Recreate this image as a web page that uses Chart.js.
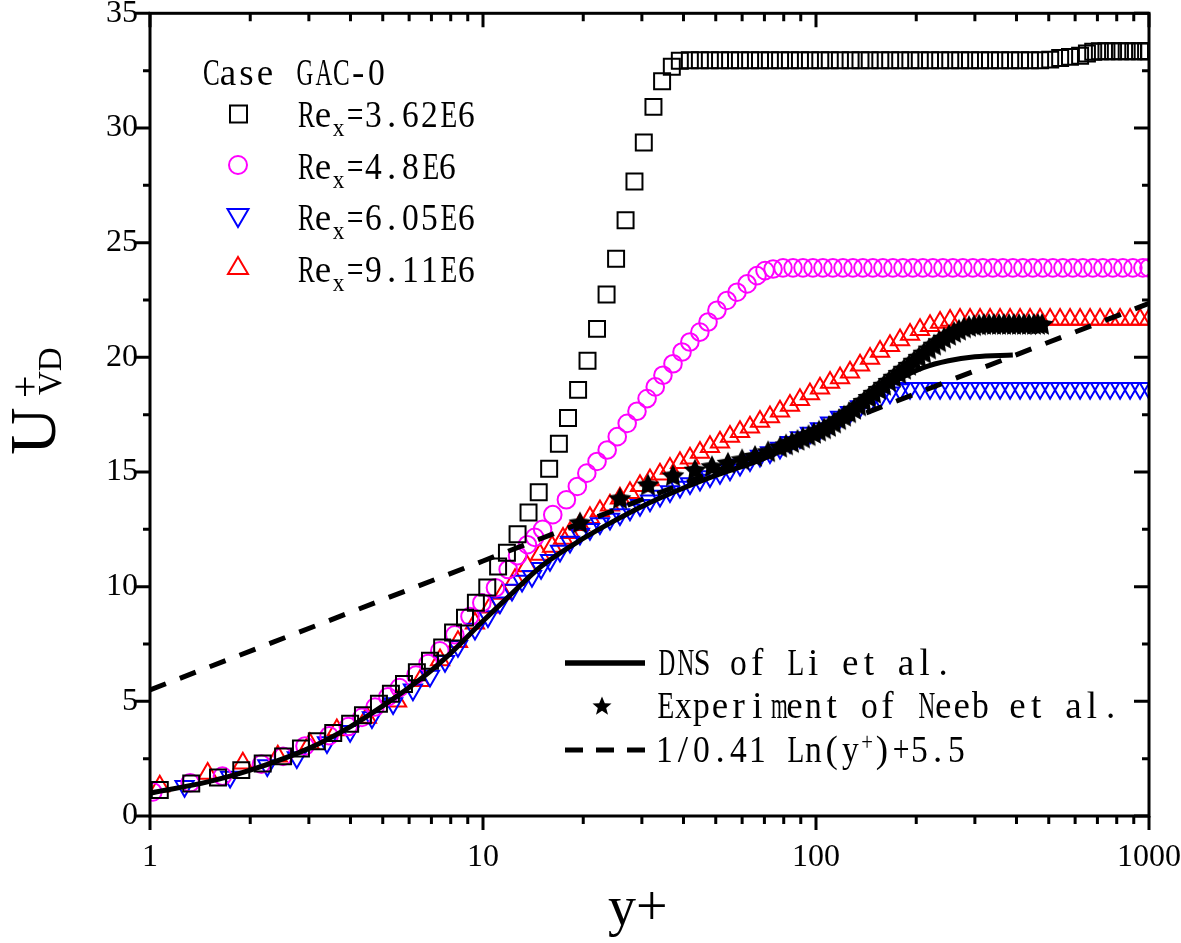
<!DOCTYPE html>
<html>
<head>
<meta charset="utf-8">
<title>U+VD vs y+ (Case GAC-0)</title>
<script src="https://cdn.jsdelivr.net/npm/chart.js@4.4.1/dist/chart.umd.min.js"></script>
<style>
  html, body { margin: 0; padding: 0; background: #ffffff; }
  #wrap { position: relative; width: 1181px; height: 943px; overflow: hidden; }
  #plot { position: absolute; left: 0; top: 0; }
  #marks { position: absolute; left: 0; top: 0; }
  .txt { position: absolute; white-space: nowrap; line-height: 1; color: #000; }
  .mono { font-family: 'Liberation Serif', 'DejaVu Serif', serif; font-size: 37px; }
  .mono sub { font-size: 0.7em; vertical-align: -9px; line-height: 0; }
  .mono sup { font-size: 0.7em; vertical-align: 12px; line-height: 0; }
  .ch { display: inline-block; text-align: center; white-space: pre; }
  .serif { font-family: 'Liberation Serif', 'DejaVu Serif', serif; }
  #ytitle { position: absolute; left: 55px; top: 455px; transform: rotate(-90deg); transform-origin: 0 0; }
</style>
</head>
<body>
<div id="wrap">
  <canvas id="plot" width="1181" height="943"></canvas>

  <!-- legend symbols -->
  <svg id="marks" width="1181" height="943">
    <rect x="230" y="105.5" width="17" height="17" fill="none" stroke="#000" stroke-width="2"/>
    <circle cx="238" cy="165" r="9" fill="none" stroke="#ff00ff" stroke-width="2"/>
    <polygon points="227.5,209 248.5,209 238,227" fill="none" stroke="#0000ff" stroke-width="2"/>
    <polygon points="238,257 248,274 228,274" fill="none" stroke="#ff0000" stroke-width="2"/>
    <line x1="565" y1="663" x2="645" y2="663" stroke="#000" stroke-width="5.5"/>
    <polygon points="602,696.5 604.8,703.2 611.5,703.4 606.2,707.9 608,714.8 602,710.8 596,714.8 597.8,707.9 592.5,703.4 599.2,703.2" fill="#000"/>
    <line x1="565" y1="750" x2="583" y2="750" stroke="#000" stroke-width="5"/>
    <line x1="596" y1="750" x2="614" y2="750" stroke="#000" stroke-width="5"/>
    <line x1="627" y1="750" x2="645" y2="750" stroke="#000" stroke-width="5"/>
  </svg>

  <!-- legend text -->
  <div class="txt mono" style="left:200px; top:54px">Case GAC-0</div>
  <div class="txt mono" style="left:295px; top:96px">Re<sub>x</sub>=3.62E6</div>
  <div class="txt mono" style="left:295px; top:147.7px">Re<sub>x</sub>=4.8E6</div>
  <div class="txt mono" style="left:295px; top:199.3px">Re<sub>x</sub>=6.05E6</div>
  <div class="txt mono" style="left:295px; top:251px">Re<sub>x</sub>=9.11E6</div>
  <div class="txt mono" style="left:655px; top:644px">DNS of Li et al.</div>
  <div class="txt mono" style="left:655px; top:687px">Experiment of Neeb et al.</div>
  <div class="txt mono" style="left:655px; top:731px">1/0.41 Ln(y<sup>+</sup>)+5.5</div>

  <!-- axis titles -->
  <div id="ytitle">
    <div class="txt serif" style="left:0; top:-55.3px; font-size:66px">U</div>
    <div class="txt serif" style="left:57px; top:-50.5px; font-size:40px">+</div>
    <div class="txt serif" style="left:60px; top:-20.6px; font-size:33px">VD</div>
  </div>
  <div class="txt serif" style="left:608px; top:878px; font-size:56px">y+</div>
</div>

<script>
// ---- data: [y+, U+VD] ----
const re362 = [
  [1.07,1.13],[1.33,1.42],[1.60,1.68],[1.88,2.0],[2.18,2.29],[2.51,2.6],[2.84,2.94],[3.17,3.26],[3.55,3.62],[3.99,4.02],
  [4.36,4.39],[4.87,4.89],[5.29,5.33],[5.79,5.76],[6.33,6.27],[6.93,6.77],[7.54,7.35],[8.13,8.0],[8.83,8.65],[9.52,9.3],
  [10.3,9.96],[11.1,10.88],[11.8,11.48],[12.7,12.29],[13.7,13.23],[14.7,14.12],[15.8,15.14],[16.9,16.23],[18.0,17.35],[19.3,18.58],
  [20.6,19.85],[22.0,21.24],[23.5,22.74],[25.1,24.3],[26.8,25.98],[28.5,27.67],[30.4,29.37],[32.5,30.92],[34.5,32.04],[36.9,32.67],
  [39.0,32.93],[41.8,32.95],[44.8,32.95],[48.0,32.95],[51.5,32.95],[55.2,32.95],[59.1,32.95],[63.4,32.95],[67.9,32.95],[72.7,32.95],
  [78.0,32.95],[83.5,32.95],[89.5,32.95],[95.9,32.95],[103,32.95],[110,32.95],[118,32.95],[127,32.95],[136,32.95],[145,32.95],
  [156,32.95],[167,32.95],[179,32.95],[192,32.95],[205,32.95],[220,32.95],[236,32.95],[253,32.95],[271,32.95],[290,32.95],
  [311,32.95],[333,32.95],[357,32.95],[383,32.95],[410,32.95],[439,32.95],[471,32.95],[505,32.98],[541,33.05],[579,33.1],
  [621,33.15],[651,33.25],[680,33.32],[712,33.35],[745,33.35],[780,33.35],[818,33.35],[857,33.35],[897,33.35],[940,33.35],
  [980,33.35],[1000,33.35]
];

const re48 = [
  [1.02,1.05],[1.32,1.45],[1.65,1.74],[2.16,2.26],[2.51,2.6],[2.92,3.05],[3.45,3.5],[3.94,3.9],[4.33,4.3],[4.74,4.75],
  [5.18,5.2],[5.61,5.6],[6.29,6.15],[6.84,6.65],[7.42,7.2],[8.23,7.9],[9.14,8.7],[9.92,9.3],[10.9,9.95],[11.9,10.75],
  [12.7,11.35],[13.6,11.83],[14.3,12.15],[15.1,12.5],[16.2,13.14],[17.8,13.79],[19.2,14.37],[20.5,14.95],[22.0,15.46],[23.6,15.96],
  [25.3,16.54],[27.1,17.12],[29.0,17.65],[31.1,18.2],[32.9,18.71],[34.7,19.22],[37.2,19.72],[39.6,20.23],[41.8,20.67],[44.8,21.1],
  [47.4,21.54],[50.4,22.05],[54.0,22.48],[57.9,22.84],[62.1,23.2],[66.5,23.56],[70.3,23.78],[74.3,23.85],
  [79.6,23.9],[85.3,23.9],[91.4,23.9],[97.9,23.9],[104.9,23.9],[112.4,23.9],[120.5,23.9],[129.1,23.9],[138.3,23.9],[148.2,23.9],
  [158.8,23.9],[170.2,23.9],[182.4,23.9],[195.4,23.9],[209.4,23.9],[224.4,23.9],[240.5,23.9],[257.7,23.9],[276.1,23.9],[295.9,23.9],
  [317.1,23.9],[339.8,23.9],[364.1,23.9],[390.2,23.9],[418.1,23.9],[448.0,23.9],[480.1,23.9],[514.5,23.9],[551.3,23.9],[590.8,23.9],
  [633.1,23.9],[678.4,23.9],[726.9,23.9],[779.0,23.9],[834.7,23.9],[894.5,23.9],[958.5,23.9],[1000,23.9]
];

const re605 = [
  [1.27,1.3],[1.74,1.7],[2.25,2.2],[2.76,2.55],[3.40,3.2],[3.99,3.7],[4.64,4.3],[5.37,4.9],[6.16,5.5],[6.93,6.1],
  [7.69,6.75],[8.41,7.4],[9.46,8.15],[10.35,8.7],[11.24,9.3],[12.22,9.85],[13.1,10.25],[14.03,10.45],[14.94,10.8],[15.89,11.15],
  [17.03,11.55],[18.25,11.95],[19.55,12.3],[20.95,12.5],[22.45,12.75],[24.06,12.95],[25.78,13.15],[27.63,13.35],[29.61,13.55],[31.73,13.75],
  [34.0,13.95],[36.43,14.15],[39.04,14.35],[41.84,14.5],[44.83,14.65],[48.04,14.8],[51.48,14.95],[55.17,15.1],[59.12,15.3],[63.35,15.5],
  [67.88,15.7],[72.74,15.85],[77.95,16.05],[83.53,16.3],[89.5,16.5],[95.9,16.7],[102.8,16.9],[110.2,17.15],[118.1,17.4],[126.5,17.6],
  [135.6,17.85],[145.3,18.05],[155.7,18.25],[166.8,18.45],[178.8,18.6],[191.6,18.65],[205.3,18.65],[220.0,18.65],[235.8,18.65],[252.7,18.65],
  [270.7,18.65],[290.1,18.65],[310.9,18.65],[333.2,18.65],[357.0,18.65],[382.6,18.65],[410.0,18.65],[439.3,18.65],[470.8,18.65],[504.5,18.65],
  [540.6,18.65],[579.3,18.65],[620.8,18.65],[665.3,18.65],[712.9,18.65],[763.9,18.65],[818.6,18.65],[877.2,18.65],[940.0,18.65],[1000,18.65]
];

const re911 = [
  [1.07,1.3],[1.49,1.85],[1.90,2.3],[2.42,2.6],[3.02,3.15],[3.64,3.75],[4.48,4.3],[5.52,5.0],[6.47,5.9],[7.43,6.8],
  [8.41,7.6],[9.46,8.4],[10.5,9.1],[11.48,9.7],[12.48,10.3],[13.56,10.9],[14.83,11.4],[16.12,11.75],[17.39,12.1],[18.25,12.35],
  [19.55,12.7],[20.95,13.0],[22.45,13.3],[24.06,13.55],[25.78,13.85],[27.63,14.1],[29.61,14.4],[31.73,14.65],[34.0,14.9],[36.43,15.15],
  [39.04,15.4],[41.84,15.6],[44.83,15.85],[48.04,16.1],[51.48,16.3],[55.17,16.55],[59.12,16.75],[63.35,16.95],[67.88,17.2],[72.74,17.4],
  [77.95,17.65],[83.53,17.9],[89.5,18.15],[95.9,18.4],[102.8,18.65],[110.2,18.9],[118.1,19.1],[126.5,19.35],[135.6,19.65],[145.3,19.95],
  [155.7,20.25],[166.8,20.5],[178.8,20.75],[191.6,21.0],[205.3,21.2],[220.0,21.38],[235.8,21.52],[252.7,21.6],[270.7,21.65],[290.1,21.65],
  [310.9,21.65],[333.2,21.65],[357.0,21.65],[382.6,21.65],[410.0,21.65],[439.3,21.65],[470.8,21.65],[504.5,21.65],[540.6,21.65],[579.3,21.65],
  [620.8,21.65],[665.3,21.65],[712.9,21.65],[763.9,21.65],[818.6,21.65],[877.2,21.65],[940.0,21.65],[1000,21.65]
];

const neebExp = [
  [19.56,12.8],[25.78,13.85],[31.3,14.45],[37.2,14.85],[43.3,15.1],[48.7,15.25],[54.4,15.4],[60.0,15.55],[65.6,15.7],[71.8,15.9],
  [78.0,16.1],[81.3,16.2],[84.7,16.3],[88.0,16.4],[91.4,16.5],[95.0,16.6],[98.6,16.7],[102.1,16.8],[105.7,16.9],[109.4,17.0],
  [113.3,17.15],[117.3,17.3],[121.4,17.45],[125.7,17.6],[130.1,17.75],[134.7,17.9],[139.4,18.1],[144.3,18.27],[149.4,18.45],[154.7,18.62],
  [160.1,18.8],[165.7,18.97],[171.5,19.15],[177.6,19.32],[183.8,19.5],[190.3,19.67],[197.0,19.85],[203.9,20.02],[211.0,20.2],[218.5,20.38],
  [226.2,20.55],[234.1,20.7],[242.3,20.85],[250.9,20.98],[259.7,21.1],[268.8,21.2],[278.2,21.3],[288.0,21.36],[298.2,21.4],[308.7,21.43],
  [319.5,21.45],[330.8,21.45],[342.4,21.45],[354.4,21.45],[366.9,21.45],[379.8,21.45],[393.1,21.45],[407.0,21.45],[421.2,21.45],[436.1,21.45],
  [451.4,21.45],[464.0,21.45],[477.1,21.45]
];

const dnsLi = [
  [1,1.0],[1.5,1.5],[2,2.0],[3,2.95],[4,3.9],[5,4.8],[6,5.6],[7,6.35],[8,7.1],[10,8.5],
  [12,9.6],[15,10.9],[20,12.1],[25,12.9],[30,13.5],[40,14.3],[50,14.85],[70,15.6],[100,16.8],[130,17.8],
  [150,18.4],[180,19.1],[210,19.55],[250,19.85],[300,20.02],[390,20.1]
];

const logLaw = [[1,5.5],[10,11.12],[100,16.73],[1000,22.35]];

const X_TICKS = [1, 10, 100, 1000];
const X_MINOR = [2, 3, 4, 5, 6, 7, 8, 9, 20, 30, 40, 50, 60, 70, 80, 90, 200, 300, 400, 500, 600, 700, 800, 900];
const Y_TICKS = [0, 5, 10, 15, 20, 25, 30, 35];
const Y_MINOR = [2.5, 7.5, 12.5, 17.5, 22.5, 27.5, 32.5];

const toXY = arr => arr.map(([x, y]) => ({ x, y }));

// legend text: serif glyphs set on a fixed half-width grid, like the original font
const CELL = 18.6, SUBCELL = 13;
const meas = document.createElement('canvas').getContext('2d');
function gridText(el) {
  const walk = (node, cell, fontPx) => {
    [...node.childNodes].forEach(n => {
      if (n.nodeType === 3) {
        const frag = document.createDocumentFragment();
        meas.font = fontPx + "px 'Liberation Serif'";
        for (const c of n.textContent) {
          const s = document.createElement('span');
          s.className = 'ch';
          s.textContent = c;
          s.style.width = cell + 'px';
          const w = meas.measureText(c).width;
          if (w > cell * 0.9) s.style.transform = 'scaleX(' + (cell * 0.9 / w).toFixed(3) + ')';
          frag.appendChild(s);
        }
        n.replaceWith(frag);
      } else if (n.nodeType === 1) {
        walk(n, SUBCELL, fontPx * 0.7);
      }
    });
  };
  walk(el, CELL, 37);
}
document.querySelectorAll('.mono').forEach(gridText);

// filled five-point star used as point style
function makeStar(size) {
  const c = document.createElement('canvas');
  c.width = c.height = size;
  const g = c.getContext('2d');
  const R = size / 2, r = R * 0.5, cx = R, cy = R * 1.08;
  g.beginPath();
  for (let i = 0; i < 10; i++) {
    const a = -Math.PI / 2 + i * Math.PI / 5;
    const rr = i % 2 ? r : R;
    g.lineTo(cx + rr * Math.cos(a), cy + rr * Math.sin(a));
  }
  g.closePath();
  g.fillStyle = '#000';
  g.fill();
  return c;
}

function markers(label, data, style, color, radius, rotation) {
  return {
    label,
    data: toXY(data),
    showLine: false,
    pointStyle: style,
    pointRadius: radius,
    pointHoverRadius: radius,
    pointRotation: rotation || 0,
    pointBorderColor: color,
    pointBackgroundColor: 'rgba(0,0,0,0)',
    pointBorderWidth: 2,
    clip: 0
  };
}

// frame and tick marks: outward on left/bottom, inward on top/right
const framePlugin = {
  id: 'frame',
  afterDraw(chart) {
    const { ctx, chartArea: a, scales: { x, y } } = chart;
    ctx.save();
    ctx.strokeStyle = '#000';
    ctx.lineWidth = 3;
    ctx.strokeRect(a.left, a.top, a.right - a.left, a.bottom - a.top);
    ctx.beginPath();
    const seg = (x1, y1, x2, y2) => { ctx.moveTo(x1, y1); ctx.lineTo(x2, y2); };
    X_TICKS.forEach(v => {
      const px = x.getPixelForValue(v);
      seg(px, a.bottom, px, a.bottom + 14);
      seg(px, a.top, px, a.top + 14);
    });
    X_MINOR.forEach(v => {
      const px = x.getPixelForValue(v);
      seg(px, a.bottom, px, a.bottom + 8);
      seg(px, a.top, px, a.top + 8);
    });
    Y_TICKS.forEach(v => {
      const py = y.getPixelForValue(v);
      seg(a.left, py, a.left - 15, py);
      seg(a.right, py, a.right - 15, py);
    });
    Y_MINOR.forEach(v => {
      const py = y.getPixelForValue(v);
      seg(a.left, py, a.left - 7, py);
      seg(a.right, py, a.right - 7, py);
    });
    ctx.stroke();
    ctx.restore();
  }
};

const tickFont = { family: "'Liberation Serif', 'DejaVu Serif', serif", size: 32 };

new Chart(document.getElementById('plot'), {
  type: 'scatter',
  data: {
    datasets: [
      {
        label: '1/0.41 Ln(y+)+5.5',
        data: toXY(logLaw),
        showLine: true,
        borderColor: '#000',
        borderWidth: 5,
        borderDash: [17, 15],
        pointRadius: 0,
        clip: 0
      },
      {
        label: 'DNS of Li et al.',
        data: toXY(dnsLi),
        showLine: true,
        borderColor: '#000',
        borderWidth: 5,
        cubicInterpolationMode: 'monotone',
        pointRadius: 0,
        clip: 0
      },
      {
        label: 'Experiment of Neeb et al.',
        data: toXY(neebExp),
        showLine: false,
        pointStyle: makeStar(24),
        pointRadius: 11,
        clip: 0
      },
      markers('Rex=3.62E6', re362, 'rect', '#000000', 11.3),
      markers('Rex=4.8E6', re48, 'circle', '#ff00ff', 8.8),
      markers('Rex=6.05E6', re605, 'triangle', '#0000ff', 10.5, 180),
      markers('Rex=9.11E6', re911, 'triangle', '#ff0000', 10.5)
    ]
  },
  options: {
    responsive: false,
    animation: false,
    devicePixelRatio: 1,
    layout: { padding: { top: 10, right: 32, left: 0, bottom: 0 } },
    plugins: {
      legend: { display: false },
      tooltip: { enabled: false }
    },
    scales: {
      x: {
        type: 'logarithmic',
        min: 1,
        max: 1000,
        border: { display: false },
        grid: { display: false, drawTicks: false },
        afterBuildTicks: s => { s.ticks = X_TICKS.map(v => ({ value: v })); },
        afterFit: s => { s.height = 127; s.paddingLeft = 0; s.paddingRight = 0; },
        ticks: {
          font: tickFont,
          color: '#000',
          padding: 22,
          maxRotation: 0,
          autoSkip: false,
          callback: v => String(v)
        }
      },
      y: {
        min: 0,
        max: 35,
        border: { display: false },
        grid: { display: false, drawTicks: false },
        afterBuildTicks: s => { s.ticks = Y_TICKS.map(v => ({ value: v })); },
        afterFit: s => { s.width = 150; s.paddingTop = 0; s.paddingBottom = 0; },
        ticks: {
          font: tickFont,
          color: '#000',
          padding: 12,
          callback: v => String(v)
        }
      }
    }
  },
  plugins: [framePlugin]
});
</script>
</body>
</html>
